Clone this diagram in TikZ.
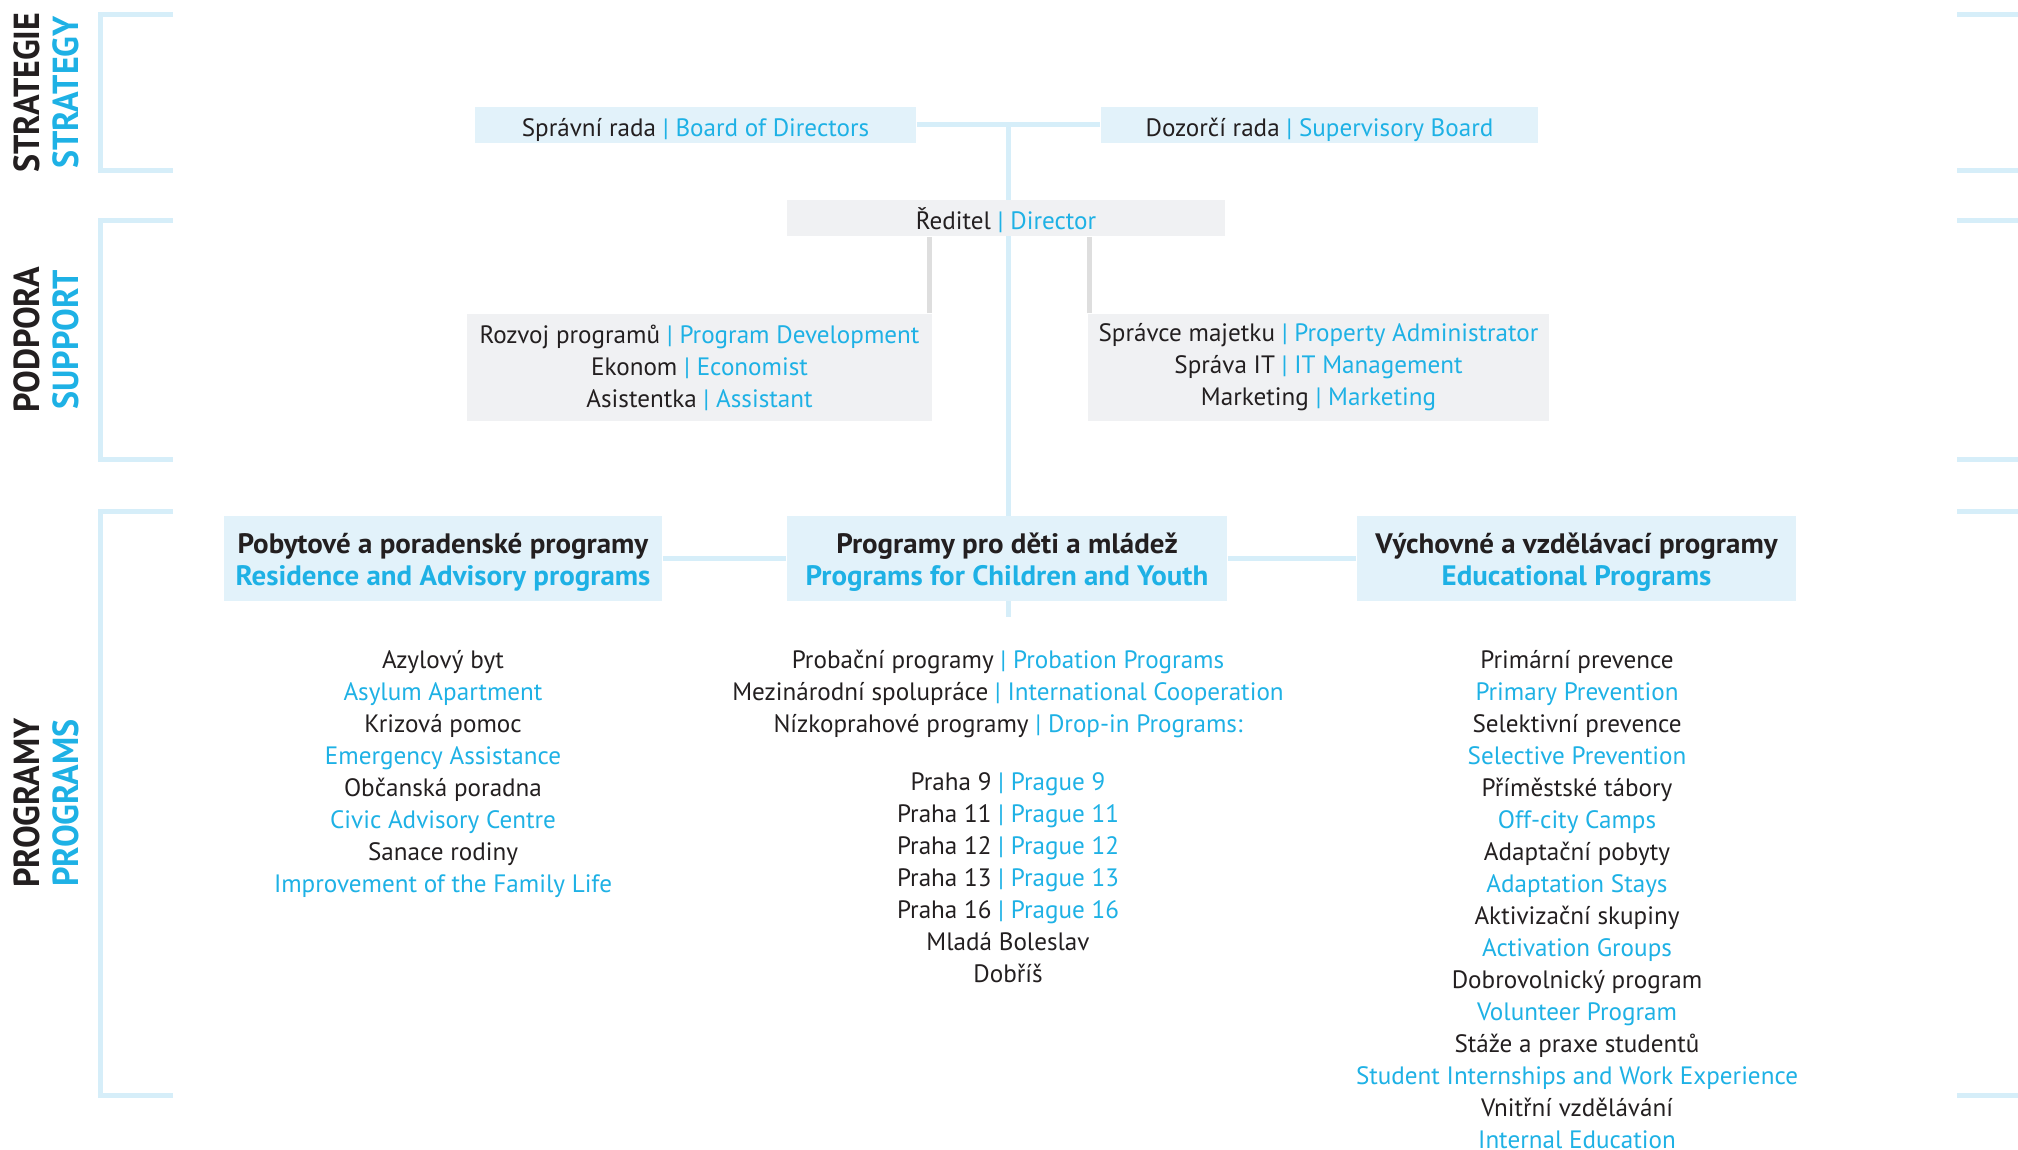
\documentclass[tikz,border=0pt]{standalone}
\usepackage{fontspec}
\setmainfont{PT Sans}
\newfontfamily\headfont{PT Sans}[FakeStretch=1.03]
\newfontfamily\sidefont{PT Sans}[FakeStretch=0.94]
\usetikzlibrary{backgrounds}
\definecolor{ink}{HTML}{231F20}
\definecolor{sky}{HTML}{1EB1E5}
\definecolor{boxblue}{HTML}{E2F2FA}
\definecolor{lineblue}{HTML}{D6EEF9}
\definecolor{boxgrey}{HTML}{F0F1F3}
\definecolor{linegrey}{HTML}{DEDEDE}
\newcommand{\en}[1]{\textcolor{sky}{| #1}}

\begin{document}
\begin{tikzpicture}[
  txt/.style={font=\fontsize{7.15}{9.1}\selectfont, text=ink, inner sep=0pt},
  item/.style={txt, anchor=base},
  bluebox/.style={txt, fill=boxblue, minimum height=0.36cm, text height=6.4pt, text depth=0pt},
  greybox/.style={txt, fill=boxgrey, align=center, minimum height=1.07cm},
  headbox/.style={txt, font=\fontsize{8}{9.1}\selectfont\headfont\bfseries, fill=boxblue, align=center,
    minimum width=4.39cm, minimum height=0.85cm, text height=15.1pt, text depth=0pt},
  side/.style={font=\fontsize{10.3}{10}\selectfont\sidefont\bfseries, rotate=90, inner sep=0pt},
  bracket/.style={lineblue, line width=0.05cm},
  link/.style={lineblue, line width=0.05cm},
  greylink/.style={linegrey, line width=0.05cm}]

\useasboundingbox (0,0) rectangle (20.18,-11.49);

% brackets
\foreach \ya/\yb in {0.148/1.705, 2.205/4.595, 5.11/10.95}
{
  \draw[bracket] (1.73,-\ya) -| (1.0,-\yb) -- (1.73,-\yb);
  \draw[bracket] (19.57,-\ya) -- (20.3,-\ya);
  \draw[bracket] (19.57,-\yb) -- (20.3,-\yb);
}

% side labels
\node[side, text=ink] (strat) at (0.27,-0.925) {STRATEGIE};
\node[side, text=sky] (stratEn) at (0.66,-0.925) {STRATEGY};
\node[side, text=ink] (supp) at (0.27,-3.40) {PODPORA};
\node[side, text=sky] (suppEn) at (0.66,-3.40) {SUPPORT};
\node[side, text=ink] (prog) at (0.27,-8.03) {PROGRAMY};
\node[side, text=sky] (progEn) at (0.66,-8.03) {PROGRAMS};

% strategy
\node[bluebox, minimum width=4.41cm] (board) at (6.955,-1.25) {Správní rada \en{Board of Directors}};
\node[bluebox, minimum width=4.37cm] (supervisory) at (13.195,-1.25) {Dozorčí rada \en{Supervisory Board}};

% support
\node[bluebox, fill=boxgrey, minimum width=4.38cm] (director) at (10.06,-2.18) {Ředitel \en{Director}};
\node[greybox, minimum width=4.65cm] (develop) at (6.995,-3.675)
  {Rozvoj programů \en{Program Development}\\ Ekonom \en{Economist}\\ Asistentka \en{Assistant}};
\node[greybox, minimum width=4.61cm] (property) at (13.185,-3.675)
  {Správce majetku \en{Property Administrator}\\ Správa IT \en{IT Management}\\ Marketing \en{Marketing}};

% programs
\node[headbox, minimum width=4.38cm] (residence) at (4.43,-5.585)
  {Pobytové a poradenské programy\\ \textcolor{sky}{Residence and Advisory programs}};
\node[headbox, minimum width=4.40cm] (youth) at (10.07,-5.585)
  {Programy pro děti a mládež\\ \textcolor{sky}{Programs for Children and Youth}};
\node[headbox] (education) at (15.765,-5.585)
  {Výchovné a vzdělávací programy\\ \textcolor{sky}{Educational Programs}};

\foreach \t/\c [count=\i] in {Azylový byt/ink, Asylum Apartment/sky, Krizová pomoc/ink,
  Emergency Assistance/sky, Občanská poradna/ink, Civic Advisory Centre/sky,
  Sanace rodiny/ink, Improvement of the Family Life/sky}
  \node[item, text=\c] (res\i) at (4.43,{-6.68-0.32*(\i-1)}) {\t};

\foreach \t [count=\i] in {Probační programy \en{Probation Programs},
  Mezinárodní spolupráce \en{International Cooperation},
  Nízkoprahové programy \en{Drop-in Programs:}}
  \node[item] (child\i) at (10.08,{-6.68-0.32*(\i-1)}) {\t};

\foreach \t [count=\i] in {Praha 9 \en{Prague 9}, Praha 11 \en{Prague 11}, Praha 12 \en{Prague 12},
  Praha 13 \en{Prague 13}, Praha 16 \en{Prague 16}, Mladá Boleslav, Dobříš}
  \node[item] (town\i) at (10.08,{-7.90-0.32*(\i-1)}) {\t};

\foreach \t/\c [count=\i] in {Primární prevence/ink, Primary Prevention/sky,
  Selektivní prevence/ink, Selective Prevention/sky, Příměstské tábory/ink,
  Off-city Camps/sky, Adaptační pobyty/ink, Adaptation Stays/sky,
  Aktivizační skupiny/ink, Activation Groups/sky, Dobrovolnický program/ink,
  Volunteer Program/sky, Stáže a praxe studentů/ink,
  Student Internships and Work Experience/sky, Vnitřní vzdělávání/ink,
  Internal Education/sky}
  \node[item, text=\c] (edu\i) at (15.77,{-6.68-0.32*(\i-1)}) {\t};

% connectors
\coordinate (spinetop) at (10.08,-1.25);
\coordinate (spinebot) at (10.08,-6.17);
\begin{scope}[on background layer]
  \draw[link] (board) -- (supervisory);
  \draw[link] (spinetop) -- (spinebot);
  \draw[link] (residence) -- (youth) -- (education);
  \draw[greylink] ([xshift=-0.035cm]develop.north east) -- ([xshift=-0.035cm]develop.north east |- director.south);
  \draw[greylink] ([xshift=0.025cm]property.north west) -- ([xshift=0.025cm]property.north west |- director.south);
\end{scope}
\end{tikzpicture}
\end{document}
